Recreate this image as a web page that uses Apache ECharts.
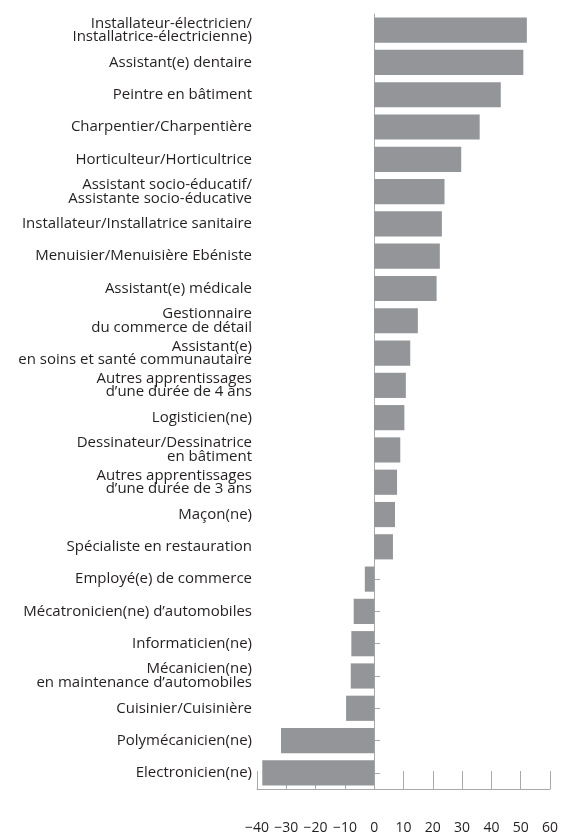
<!DOCTYPE html>
<html>
<head>
<meta charset="utf-8">
<style>
    html, body { margin: 0; padding: 0; background: #fff; }
    #chart { width: 561px; height: 839px; }
</style>
<script src="https://cdn.jsdelivr.net/npm/echarts@6/dist/echarts.min.js"></script>
</head>
<body>
<div id="chart"></div>
<script>
// metiers, du haut vers le bas
var categories = [
    'Installateur-électricien/\nInstallatrice-électricienne)',
    'Assistant(e) dentaire',
    'Peintre en bâtiment',
    'Charpentier/Charpentière',
    'Horticulteur/Horticultrice',
    'Assistant socio-éducatif/\nAssistante socio-éducative',
    'Installateur/Installatrice sanitaire',
    'Menuisier/Menuisière Ebéniste',
    'Assistant(e) médicale',
    'Gestionnaire\ndu commerce de détail',
    'Assistant(e)\nen soins et santé communautaire',
    'Autres apprentissages\nd’une durée de 4 ans',
    'Logisticien(ne)',
    'Dessinateur/Dessinatrice\nen bâtiment',
    'Autres apprentissages\nd’une durée de 3 ans',
    'Maçon(ne)',
    'Spécialiste en restauration',
    'Employé(e) de commerce',
    'Mécatronicien(ne) d’automobiles',
    'Informaticien(ne)',
    'Mécanicien(ne)\nen maintenance d’automobiles',
    'Cuisinier/Cuisinière',
    'Polymécanicien(ne)',
    'Electronicien(ne)'
];

var values = [52.1, 50.9, 43.2, 36.0, 29.7, 24.0, 23.1, 22.4, 21.3, 14.9,
    12.3, 10.8, 10.3, 8.9, 7.8, 7.1, 6.4, -3.2, -7.0, -7.8, -8.0, -9.6, -31.8, -38.2];

var xTicks = [-40, -30, -20, -10, 0, 10, 20, 30, 40, 50, 60];

var textColor = '#231f20';
var lineColor = '#a7a9ac';
var barColor = '#939598';
var fontName = 'Open Sans';

var chart = echarts.init(document.getElementById('chart'));

var option = {
    animation: false,
    grid: {
        left: 257,
        right: 9,
        top: 14,
        bottom: 50
    },
    xAxis: {
        type: 'value',
        min: xTicks[0],
        max: xTicks[xTicks.length - 1],
        interval: 10,
        splitLine: {show: false},
        axisLine: {show: true, onZero: false, lineStyle: {color: lineColor, width: 1}},
        axisTick: {show: true, inside: true, length: 18, lineStyle: {color: lineColor}},
        axisLabel: {
            margin: 32,
            color: textColor,
            fontFamily: fontName,
            fontSize: 14,
            formatter: function (v) {
                return String(v).replace('-', '\u2212');
            }
        }
    },
    yAxis: [
        {
            // etiquettes a gauche
            type: 'category',
            inverse: true,
            position: 'left',
            data: categories,
            axisLine: {show: false, onZero: false},
            axisTick: {show: false},
            axisLabel: {
                margin: 5,
                color: textColor,
                fontFamily: fontName,
                fontSize: 15,
                lineHeight: 13.5,
                padding: [5, 0, 0, 0],
                align: 'right'
            }
        },
        {
            // ligne du zero
            type: 'category',
            inverse: true,
            position: 'left',
            data: categories,
            axisLine: {show: true, onZero: true, lineStyle: {color: lineColor, width: 1}},
            axisTick: {show: true, inside: true, length: 6, alignWithLabel: true, lineStyle: {color: lineColor}},
            axisLabel: {show: false}
        }
    ],
    series: [
        {
            type: 'bar',
            yAxisIndex: 0,
            data: values,
            barCategoryGap: '22%',
            itemStyle: {color: barColor},
            z: 3
        }
    ]
};

chart.setOption(option);
</script>
</body>
</html>
